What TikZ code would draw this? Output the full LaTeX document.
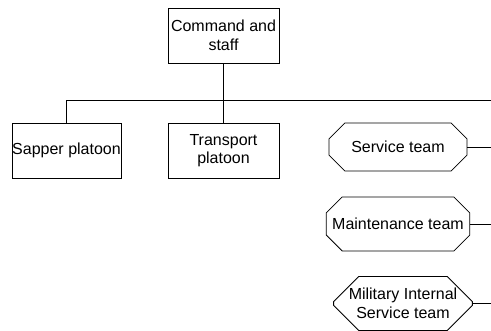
\documentclass[tikz,border=0pt]{standalone}
\usepackage{fontspec}
\setmainfont{Liberation Sans}
\usetikzlibrary{shapes.misc}
\begin{document}
\begin{tikzpicture}[x=1pt,y=-1pt,
  every node/.style={font=\fontsize{16}{18.5}\selectfont, inner sep=0pt, align=center},
  unitbox/.style={draw, line width=0.8pt, rectangle, minimum height=55pt},
  teambox/.style={draw, line width=0.8pt, chamfered rectangle, chamfered rectangle xsep=23pt, chamfered rectangle ysep=10pt, minimum width=138pt},
  link/.style={line width=0.8pt}]
\useasboundingbox (0,0) rectangle (491,331);
\node[unitbox, minimum width=111pt] (cmd) at (223.5,35.5) {Command and\\staff};
\node[unitbox, minimum width=109pt] (sap) at (66.5,150.5) {Sapper platoon};
\node[unitbox, minimum width=111pt] (tra) at (223.5,150.5) {Transport\\platoon};
\node[teambox, minimum height=48pt] (ser) at (398,147) {Service team};
\node[teambox, minimum height=54pt] (mai) at (398,224) {Maintenance team};
\node[teambox, minimum height=54pt] (mil) at (403,303.5) {Military Internal\\Service team};
\coordinate (bus) at (223.5,100);
\coordinate (busr) at (491,100);
\coordinate (sr) at (491,147);
\coordinate (mr) at (491,224);
\coordinate (lr) at (491,303.5);
\draw[link] (cmd.south) -- (tra.north);
\draw[link] (sap.north) |- (busr);
\draw[link] (ser.east) -- (sr);
\draw[link] (mai.east) -- (mr);
\draw[link] (mil.east) -- (lr);
\end{tikzpicture}
\end{document}
